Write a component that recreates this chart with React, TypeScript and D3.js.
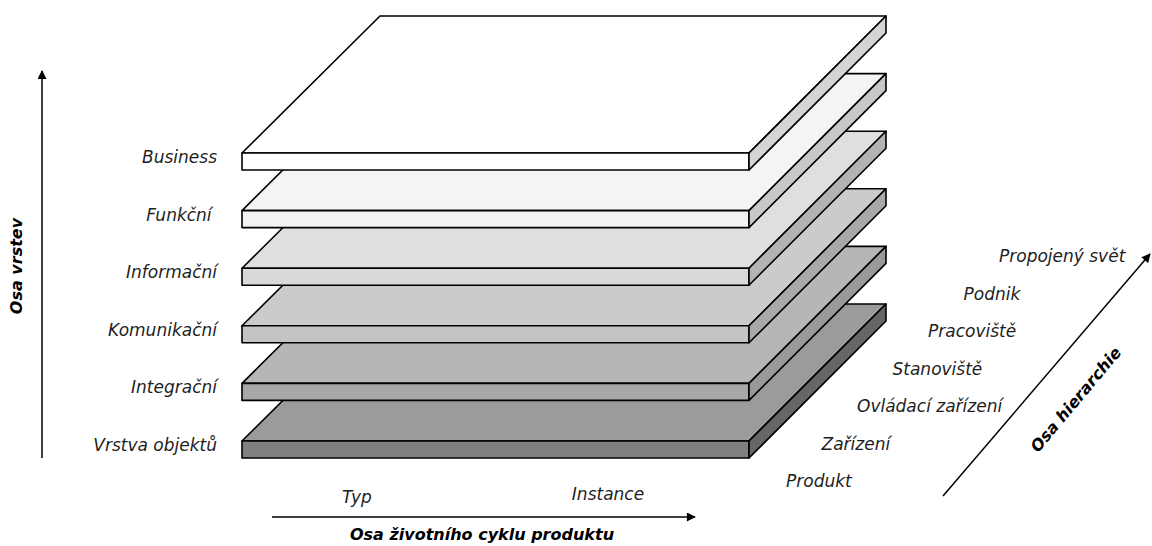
import React, { useEffect, useRef } from "react";
import { scaleLinear, scalePoint, select } from "d3";

// Data
const layers = [
  "Vrstva objektů",
  "Integrační",
  "Komunikační",
  "Informační",
  "Funkční ",
  "Business",
];
const topFills = ["#9b9b9b", "#b6b6b6", "#cbcbcb", "#dfdfdf", "#f4f4f4", "#ffffff"];
const frontFills = ["#808080", "#a8a8a8", "#c4c4c4", "#d9d9d9", "#f2f2f2", "#ffffff"];
const sideFills = ["#666666", "#999999", "#a8a8a8", "#b3b3b3", "#c8c8c8", "#d4d4d4"];
const hierarchy = [
  "Produkt",
  "Zařízení",
  "Ovládací zařízení",
  "Stanoviště",
  "Pracoviště",
  "Podnik",
  "Propojený svět",
];
const lifecycle = ["Typ", "Instance"];

const W = 1152;
const H = 546;

export default function App() {
  const ref = useRef<SVGSVGElement>(null);

  useEffect(() => {
    const svg = select(ref.current);
    svg.selectAll("*").remove();

    const font = "'DejaVu Sans', sans-serif";
    const x0 = 242;
    const x1 = 749;
    const depth = 137;
    const thick = 17;

    const y = scalePoint<string>().domain(layers).range([441, 153]);

    // arrow marker
    const defs = svg.append("defs");
    defs
      .append("marker")
      .attr("id", "arr")
      .attr("viewBox", "0 0 10 10")
      .attr("refX", 9)
      .attr("refY", 5)
      .attr("markerWidth", 10)
      .attr("markerHeight", 9)
      .attr("markerUnits", "userSpaceOnUse")
      .attr("orient", "auto")
      .append("path")
      .attr("d", "M0,0 L10,5 L0,10 z")
      .attr("fill", "#000");

    // layers, bottom first so upper ones overlap
    const g = svg.append("g");
    layers.forEach((name, i) => {
      const yy = y(name)!;
      const lg = g.append("g").attr("stroke", "#000").attr("stroke-width", 1.6).attr("stroke-linejoin", "round");
      lg.append("path")
        .attr("d", `M${x0},${yy} L${x1},${yy} L${x1 + depth},${yy - depth} L${x0 + depth + 1},${yy - depth} Z`)
        .attr("fill", topFills[i]);
      lg.append("rect")
        .attr("x", x0)
        .attr("y", yy)
        .attr("width", x1 - x0)
        .attr("height", thick)
        .attr("fill", frontFills[i]);
      lg.append("path")
        .attr("d", `M${x1},${yy} L${x1 + depth},${yy - depth} L${x1 + depth},${yy - depth + thick} L${x1},${yy + thick} Z`)
        .attr("fill", sideFills[i]);

      svg
        .append("text")
        .attr("x", 217)
        .attr("y", yy + 10)
        .attr("text-anchor", "end")
        .attr("font-family", font)
        .attr("font-style", "italic")
        .attr("font-size", 17)
        .attr("fill", "#1e1e1e")
        .style("white-space", "pre")
        .text(name);
    });

    // layer axis
    svg
      .append("line")
      .attr("x1", 42)
      .attr("y1", 458)
      .attr("x2", 42)
      .attr("y2", 71)
      .attr("stroke", "#000")
      .attr("stroke-width", 1.5)
      .attr("marker-end", "url(#arr)");
    svg
      .append("text")
      .attr("transform", "translate(22,266) rotate(-90)")
      .attr("text-anchor", "middle")
      .attr("font-family", font)
      .attr("font-style", "italic")
      .attr("font-weight", "bold")
      .attr("font-size", 16)
      .attr("fill", "#000")
      .text("Osa vrstev");

    // lifecycle axis
    const lx = scalePoint<string>().domain(lifecycle).range([357, 608]);
    svg
      .append("line")
      .attr("x1", 272)
      .attr("y1", 517)
      .attr("x2", 695)
      .attr("y2", 517)
      .attr("stroke", "#000")
      .attr("stroke-width", 1.5)
      .attr("marker-end", "url(#arr)");
    lifecycle.forEach((t, i) => {
      svg
        .append("text")
        .attr("x", lx(t)!)
        .attr("y", i === 0 ? 503 : 500)
        .attr("text-anchor", "middle")
        .attr("font-family", font)
        .attr("font-style", "italic")
        .attr("font-size", 17)
        .attr("fill", "#1e1e1e")
        .text(t);
    });
    svg
      .append("text")
      .attr("x", 482)
      .attr("y", 540)
      .attr("text-anchor", "middle")
      .attr("font-family", font)
      .attr("font-style", "italic")
      .attr("font-weight", "bold")
      .attr("font-size", 16)
      .attr("fill", "#000")
      .text("Osa životního cyklu produktu");

    // hierarchy labels
    const hi = scaleLinear().domain([0, hierarchy.length - 1]);
    const hx = hi.copy().range([786, 999]);
    const hy = hi.copy().range([487, 262]);
    hierarchy.forEach((t, i) => {
      svg
        .append("text")
        .attr("x", hx(i))
        .attr("y", hy(i))
        .attr("font-family", font)
        .attr("font-style", "italic")
        .attr("font-size", 17)
        .attr("fill", "#1e1e1e")
        .text(t);
    });

    // hierarchy axis
    svg
      .append("line")
      .attr("x1", 943)
      .attr("y1", 496)
      .attr("x2", 1150)
      .attr("y2", 254)
      .attr("stroke", "#000")
      .attr("stroke-width", 1.5)
      .attr("marker-end", "url(#arr)");
    svg
      .append("text")
      .attr("transform", "translate(1080,403) rotate(-50)")
      .attr("text-anchor", "middle")
      .attr("font-family", font)
      .attr("font-style", "italic")
      .attr("font-weight", "bold")
      .attr("font-size", 16)
      .attr("fill", "#000")
      .text("Osa hierarchie");
  }, []);

  return (
    <svg
      ref={ref}
      width={W}
      height={H}
      style={{ position: "absolute", left: 0, top: 0, background: "#fff" }}
    />
  );
}
